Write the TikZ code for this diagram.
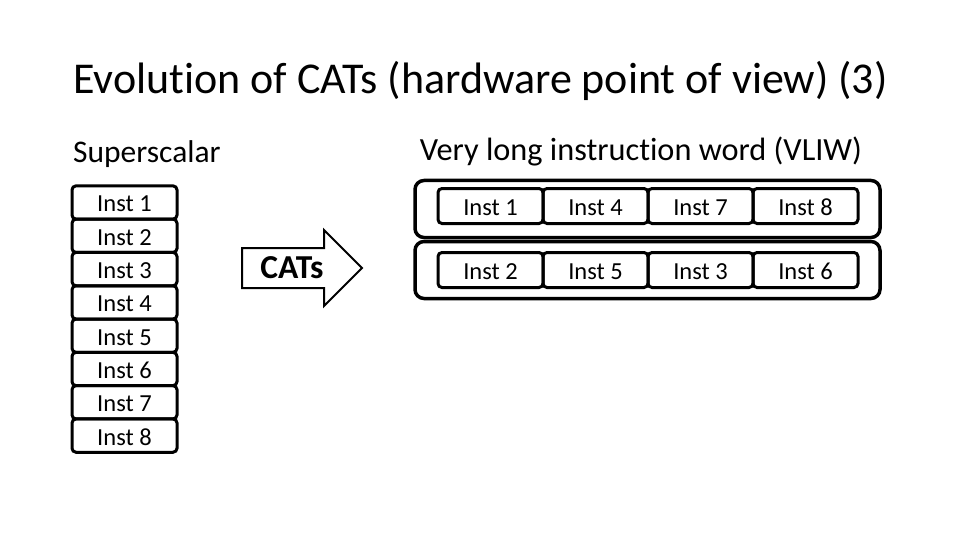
\documentclass[tikz,border=0pt]{standalone}
\usepackage{fontspec}
\setmainfont{Carlito}[Ligatures=NoCommon]
\usepackage{tikz}
\usetikzlibrary{positioning}

\begin{document}
\begin{tikzpicture}[
  x=1pt, y=-1pt,
  inst/.style={rectangle, draw=black, line width=3pt, minimum width=105pt, minimum height=33.3pt, outer sep=0pt, rounded corners=4pt, inner sep=0pt, text height=18.8pt, text depth=0pt, font=\fontsize{24.5}{26}\selectfont},
  wide/.style={inst, minimum height=35pt},
  bundle/.style={rectangle, draw=black, line width=3.5pt, rounded corners=9pt, minimum width=465pt, minimum height=57pt, inner sep=0pt, outer sep=0pt},
  heading/.style={anchor=base west, inner sep=0pt, font=\fontsize{31.5}{34}\selectfont}
]
\useasboundingbox (0,0) rectangle (960,540);

% Titles
\node (title) [anchor=base west, inner sep=0pt, font=\fontsize{44}{46}\selectfont] at (73,94) {Evolution of CATs (hardware point of view) (3)};
\node (sup) [heading] at (73,163) {Superscalar};
\node (vliw) [heading, anchor=base, font=\fontsize{32.3}{34}\selectfont] at (641,160.5) {Very long instruction word (VLIW)};

% Superscalar stack
\node (s1) [inst] at (124.5,202.5) {Inst 1};
\node (s2) [inst, below=0pt of s1] {Inst 2};
\node (s3) [inst, below=0pt of s2] {Inst 3};
\node (s4) [inst, below=0pt of s3] {Inst 4};
\node (s5) [inst, below=0pt of s4] {Inst 5};
\node (s6) [inst, below=0pt of s5] {Inst 6};
\node (s7) [inst, below=0pt of s6] {Inst 7};
\node (s8) [inst, below=0pt of s7] {Inst 8};

% CATs arrow
\draw [line width=2pt, line join=miter] (242,248) -- (324,248) -- (324,230) -- (362,268) -- (324,306) -- (324,288) -- (242,288) -- cycle;
\node (cats) [font=\bfseries\fontsize{33.5}{35}\selectfont] at (292,268) {CATs};

% VLIW words
\node (w1) [bundle] at (647.5,209) {};
\node (w2) [bundle] at (647.5,270) {};
\node (a1) [wide] at (490.5,206) {Inst 1};
\node (a2) [wide, right=0pt of a1] {Inst 4};
\node (a3) [wide, right=0pt of a2] {Inst 7};
\node (a4) [wide, right=0pt of a3] {Inst 8};
\node (b1) [wide] at (490.5,270) {Inst 2};
\node (b2) [wide, right=0pt of b1] {Inst 5};
\node (b3) [wide, right=0pt of b2] {Inst 3};
\node (b4) [wide, right=0pt of b3] {Inst 6};
\end{tikzpicture}
\end{document}
